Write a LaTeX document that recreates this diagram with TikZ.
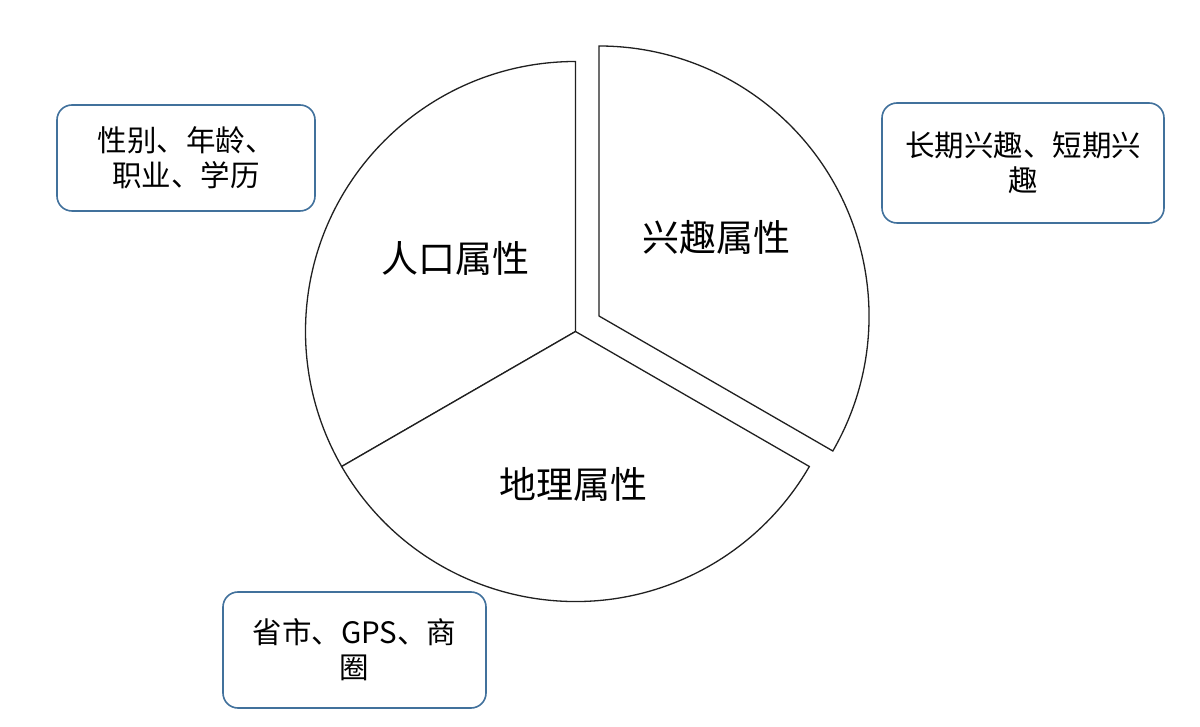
\documentclass[tikz,border=0pt]{standalone}
\usepackage{fontspec}
\setmainfont{Noto Sans CJK SC}
\definecolor{boxblue}{HTML}{41719C}
\definecolor{pieline}{HTML}{202020}
\begin{document}
\begin{tikzpicture}[x=1pt,y=1pt,
  slice/.style={draw=pieline,line width=1.3pt,fill=white,line join=miter},
  biglabel/.style={font=\fontsize{37}{44}\selectfont,text=black,inner sep=0pt},
  infobox/.style={draw=boxblue,line width=1.6pt,rounded corners=15pt,fill=white,
    align=center,font=\fontsize{29.5}{35}\selectfont,text=black,inner sep=0pt}]
\useasboundingbox (0,0) rectangle (1200,726);
\fill[white] (0,0) rectangle (1200,726);
% pie
\coordinate (c) at (575.5,394.5);
\coordinate (ce) at (599,410);
\draw[slice] (c) -- ++(90:270) arc[start angle=90,end angle=210,radius=270] -- cycle;
\draw[slice] (c) -- ++(210:270) arc[start angle=210,end angle=330,radius=270] -- cycle;
\draw[slice] (ce) -- ++(-30:270) arc[start angle=-30,end angle=90,radius=270] -- cycle;
% labels
\node[biglabel] (renkou) at (455,468) {人口属性};
\node[biglabel] (xingqu) at (716,489) {兴趣属性};
\node[biglabel] (dili) at (573,242) {地理属性};
% boxes
\node[infobox,minimum width=258pt,minimum height=106pt] (box1) at (186,568) {性别、年龄、\\职业、学历};
\node[infobox,minimum width=282pt,minimum height=120pt] (box2) at (1023,563) {长期兴趣、短期兴\\趣};
\node[infobox,minimum width=263pt,minimum height=116pt] (box3) at (354.5,76) {省市、GPS、商\\圈};
\end{tikzpicture}
\end{document}
